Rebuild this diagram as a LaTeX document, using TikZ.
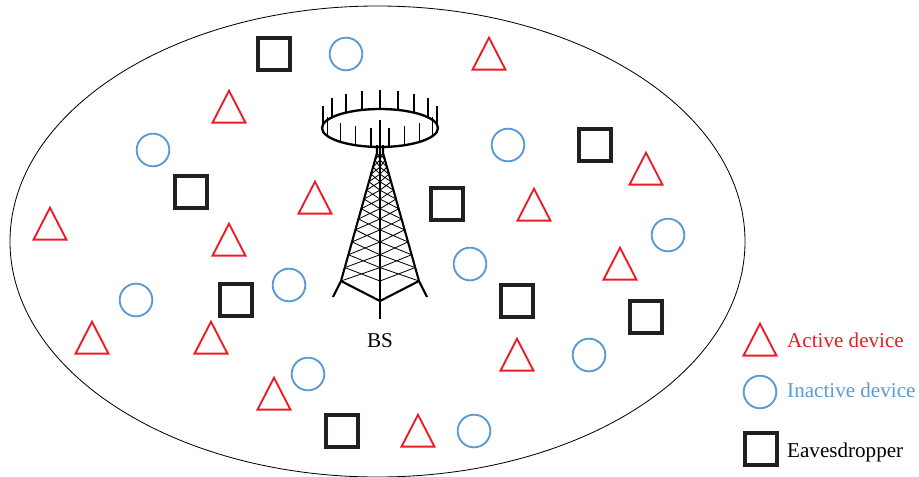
\documentclass[tikz,border=0pt]{standalone}
\usepackage{fontspec}
\setmainfont{Liberation Serif}
\usetikzlibrary{shapes.geometric,calc}

\definecolor{devred}{RGB}{237,28,36}
\definecolor{devblue}{RGB}{91,155,213}
\definecolor{evegray}{RGB}{35,31,32}

\begin{document}
\begin{tikzpicture}[
    x=0.03cm, y=-0.03cm,
    active/.style={regular polygon, regular polygon sides=3, draw=devred, line width=1.6pt, inner sep=0pt, minimum size=1.14cm, yscale=1.12},
    inactive/.style={circle, draw=devblue, line width=1.6pt, inner sep=0pt, minimum size=0.98cm},
    eve/.style={rectangle, draw=evegray, line width=2.8pt, inner sep=0pt, minimum size=0.96cm},
    legendtext/.style={anchor=base west, inner sep=0pt, font=\fontsize{18}{21}\selectfont},
    leg/.style={line width=1.8pt, line join=round},
    brace/.style={line width=0.7pt},
    spike/.style={line width=1.5pt}
]
\useasboundingbox (0,0) rectangle (919,477);

% Cell boundary
\draw[line width=0.7pt] (377.5,241.5) ellipse [x radius=367.5, y radius=235.5];

% Base station tower
\coordinate (ring) at (380,128);
\coordinate (lt) at (377,153);
\coordinate (lb) at (341,281);
\coordinate (rt) at (383,153);
\coordinate (rb) at (419,281);
\coordinate (ct) at (380,153);
\coordinate (cm) at (380,281);
\coordinate (cb) at (380,301);

\draw[line width=2pt] (ring) ellipse [x radius=58, y radius=19];
\foreach \t in {190,214,234,252,270,288,306,326,350,25,47,65,81,99,115,133,155}
    \draw[spike] (ring) ++(\t:58 and 19) -- ++(0,-19);

% lattice between legs and mast
\foreach \f [remember=\f as \g (initially 0)] in {0.055,0.11,0.165,0.225,0.29,0.36,0.435,0.515,0.6,0.695,0.795,0.895,1} {
    \draw[brace] ($(lt)!\g!(lb)$) -- ($(ct)!\f!(cm)$) ($(ct)!\g!(cm)$) -- ($(lt)!\f!(lb)$);
    \draw[brace] ($(rt)!\g!(rb)$) -- ($(ct)!\f!(cm)$) ($(ct)!\g!(cm)$) -- ($(rt)!\f!(rb)$);
}
\draw[leg] (377,145) -- (lt) -- (lb) -- (333,297);
\draw[leg] (383,145) -- (rt) -- (rb) -- (427,297);
\draw[leg] (lb) -- (cb) -- (rb);
\draw[line width=1.4pt] (380,120) -- (cb);
\draw[leg] (cb) -- (380,319);
\node[anchor=base, inner sep=0pt, font=\fontsize{18}{21}\selectfont] (bs) at (380,347) {BS};

% Eavesdroppers
\foreach \x/\y [count=\i] in {274/54, 191/192, 447/204, 595/145, 236/300, 517/301, 646/317, 342/431}
    \node[eve] (e\i) at (\x,\y) {};

% Inactive devices
\foreach \x/\y [count=\i] in {346/54, 153/150, 508/145, 668/235, 470/264, 289/285, 136/300, 308/374, 589/355, 474/431}
    \node[inactive] (u\i) at (\x,\y) {};

% Active devices
\foreach \x/\y [count=\i] in {489/59, 229/112, 50/229, 229/245, 315/203, 534/210, 646/174, 620/269, 92/343, 211/343, 517/360, 274/399, 418/436}
    \node[active] (a\i) at (\x,\y) {};

% Legend
\node[active] (la) at (760,345) {};
\node[legendtext, text=devred] (lat) at (787,347) {Active device};
\node[inactive] (li) at (760,392) {};
\node[legendtext, text=devblue] (lit) at (787,397) {Inactive device};
\node[eve] (le) at (761,449) {};
\node[legendtext] (let) at (787,457) {Eavesdropper};

\end{tikzpicture}
\end{document}
